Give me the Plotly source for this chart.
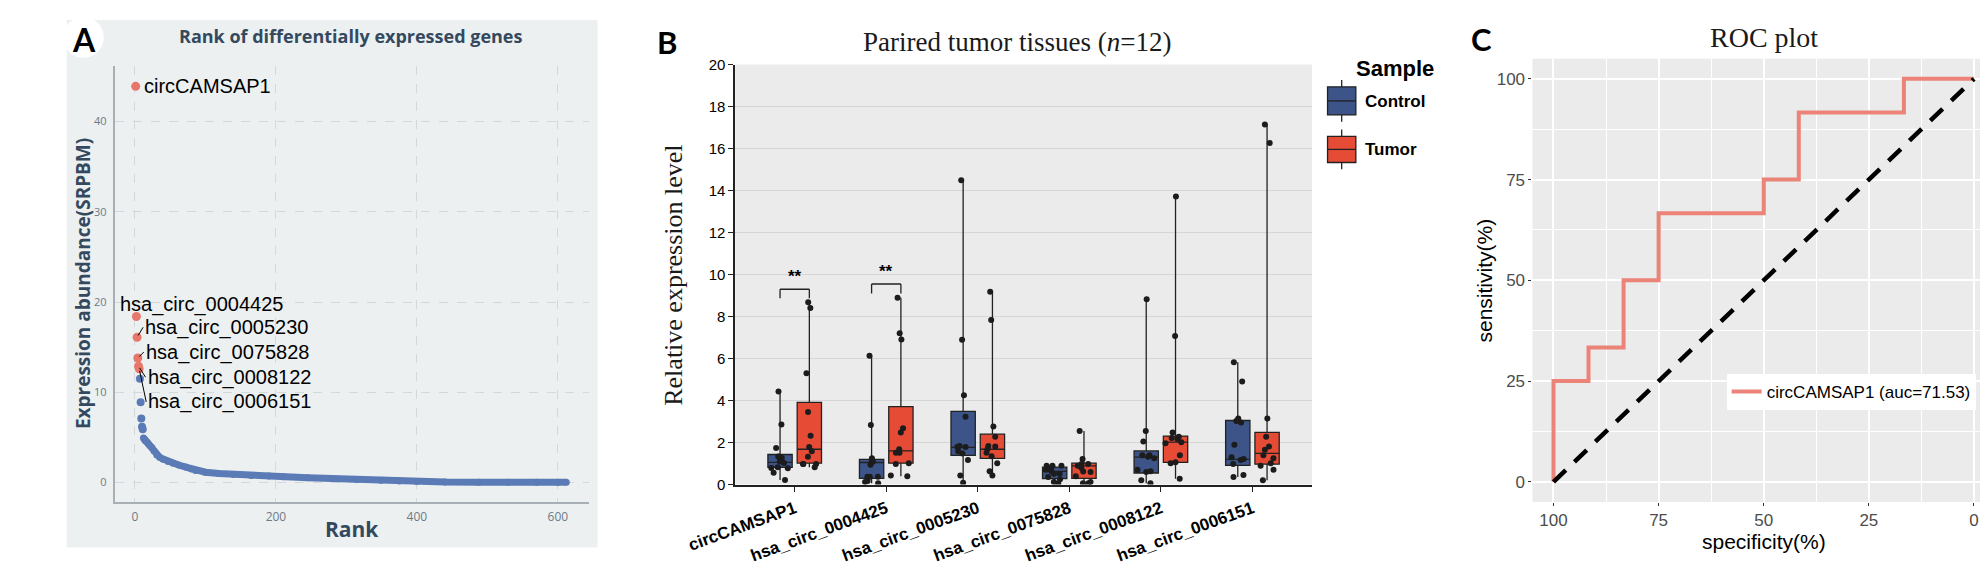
import numpy as np
import plotly.graph_objects as go

W, H = 1988, 567


def px(x):
    return x / W


def py(y):
    return 1 - y / H


# ---------------- Panel A data ----------------
top_rank = [1, 2, 3, 4, 5, 6]
top_abund = [43.9, 18.4, 16.1, 13.8, 12.9, 12.6]
top_label = ["circCAMSAP1", "hsa_circ_0004425", "hsa_circ_0005230",
             "hsa_circ_0075828", "hsa_circ_0008122", "hsa_circ_0006151"]
mid_rank = [7, 8, 9, 10, 11]
mid_abund = [11.5, 8.9, 7.1, 6.2, 5.9]
tail_rank = [12, 13, 14, 15, 17, 19, 21, 24, 27, 31, 35, 40, 47, 54, 62, 72, 80, 86,
             100, 119, 140, 165, 190, 211, 245, 280, 315, 349, 375, 400, 440, 488,
             530, 570, 600, 612]
tail_abund = [4.95, 4.85, 4.75, 4.6, 4.5, 4.3, 4.1, 3.9, 3.5, 3.05, 2.8, 2.6, 2.35,
              2.15, 1.95, 1.72, 1.5, 1.35, 1.15, 1.0, 0.9, 0.8, 0.72, 0.65, 0.55,
              0.46, 0.35, 0.25, 0.18, 0.12, 0.08, 0.05, 0.04, 0.03, 0.03, 0.03]
a_xticks = [0, 200, 400, 600]
a_yticks = [0, 10, 20, 30, 40]

# ---------------- Panel B data ----------------
cats = ["circCAMSAP1", "hsa_circ_0004425", "hsa_circ_0005230",
        "hsa_circ_0075828", "hsa_circ_0008122", "hsa_circ_0006151"]
ctrl_q1 = [0.82, 0.29, 1.39, 0.28, 0.55, 0.91]
ctrl_med = [1.06, 1.05, 1.77, 0.63, 1.31, 1.20]
ctrl_q3 = [1.43, 1.20, 3.48, 0.83, 1.60, 3.05]
tum_q1 = [1.02, 1.02, 1.25, 0.29, 1.06, 0.97]
tum_med = [1.68, 1.60, 1.68, 0.89, 2.02, 1.48]
tum_q3 = [3.91, 3.71, 2.40, 1.02, 2.31, 2.48]

ctrl_pts = [
    [1.74, 2.86, 4.43, 0.22, 1.33, 1.26, 1.03, 0.82, 0.78, 0.79, 0.56, 1.10],
    [6.13, 2.83, 1.25, 1.10, 0.94, 0.37, 0.37, 0.37, 0.17, 0.06, 0.12, 1.05],
    [14.49, 6.90, 4.25, 3.23, 1.79, 1.79, 1.83, 1.58, 1.48, 1.17, 0.43, 0.09],
    [0.89, 0.89, 0.89, 0.70, 0.63, 0.51, 0.51, 0.36, 0.25, 0.12, 0.06, 0.80],
    [8.82, 2.55, 2.05, 1.32, 1.40, 1.40, 1.25, 0.63, 0.60, 0.20, 0.06, 0.70],
    [5.82, 4.91, 3.02, 3.14, 1.89, 1.22, 1.17, 0.98, 0.45, 0.36, 1.30, 2.95],
]
tum_pts = [
    [8.68, 8.41, 5.30, 3.45, 2.32, 1.79, 1.58, 1.32, 0.98, 0.98, 0.98, 0.82],
    [8.90, 7.20, 6.91, 2.68, 2.48, 1.68, 1.52, 1.52, 1.02, 0.98, 0.43, 0.40],
    [9.18, 7.84, 2.77, 2.28, 1.81, 1.83, 1.68, 1.51, 1.35, 1.02, 0.63, 0.43],
    [2.55, 1.22, 0.98, 0.89, 0.98, 0.80, 0.60, 0.62, 0.40, 0.06, 0.12, 0.06],
    [13.72, 7.07, 2.48, 2.28, 2.17, 2.22, 1.97, 2.02, 1.40, 1.06, 1.02, 0.28],
    [17.15, 16.26, 3.14, 2.28, 1.81, 1.66, 1.40, 1.25, 1.02, 0.89, 0.71, 0.20],
]
sig_idx = [0, 1]
sig_top = [9.30, 9.55]
sig_base = [8.87, 9.10]
sig_text = ["**", "**"]
b_yticks = [0, 2, 4, 6, 8, 10, 12, 14, 16, 18, 20]

# ---------------- Panel C data ----------------
roc_spec = [100, 91.67, 83.33, 75, 50, 41.67, 16.67, 0]
roc_sens = [0, 25, 33.33, 50, 66.67, 75, 91.67, 100]
roc_name = "circCAMSAP1 (auc=71.53)"
diag_x = [100, 0]
diag_y = [0, 100]
c_ticks = [0, 25, 50, 75, 100]

# ---------------- styles ----------------
SANS = "Liberation Sans, Arial, sans-serif"
SERIF = "Liberation Serif, Times New Roman, serif"
FLAT = "Open Sans, sans-serif"
A_TEXT = "#34495E"
A_BG = "#ECF0F1"
RED_A = "#E8776B"
BLUE_A = "#5B7BB6"
CTRL = "#3C5488"
TUM = "#E64B35"
ROC_COL = "#EB8378"
BOXGAP = 0.36
GROUPGAP = 0.17

fig = go.Figure()

# ---- Panel A traces ----
fig.add_trace(go.Scatter(x=tail_rank, y=tail_abund, mode="lines+markers",
                         line=dict(color=BLUE_A, width=7),
                         marker=dict(color=BLUE_A, size=7),
                         xaxis="x", yaxis="y", showlegend=False, hoverinfo="skip"))
fig.add_trace(go.Scatter(x=mid_rank, y=mid_abund, mode="markers",
                         marker=dict(color=BLUE_A, size=8),
                         xaxis="x", yaxis="y", showlegend=False))
fig.add_trace(go.Scatter(x=top_rank, y=top_abund, mode="markers",
                         marker=dict(color=RED_A, size=9),
                         xaxis="x", yaxis="y", showlegend=False, text=top_label))

# ---- Panel B traces ----
for name, q1, med, q3, pts, col in [("Control", ctrl_q1, ctrl_med, ctrl_q3, ctrl_pts, CTRL),
                                    ("Tumor", tum_q1, tum_med, tum_q3, tum_pts, TUM)]:
    fig.add_trace(go.Box(
        x=cats, q1=q1, median=med, q3=q3,
        lowerfence=[min(p) for p in pts], upperfence=[max(p) for p in pts],
        name=name, offsetgroup=name, boxpoints=False, whiskerwidth=0,
        fillcolor=col, line=dict(color="#222222", width=1.3),
        xaxis="x2", yaxis="y2", showlegend=False))
for name, pts in [("Control", ctrl_pts), ("Tumor", tum_pts)]:
    fig.add_trace(go.Box(
        x=np.repeat(cats, len(pts[0])), y=np.concatenate(pts),
        name=name + " points", offsetgroup=name, boxpoints="all", jitter=0.85,
        pointpos=0, fillcolor="rgba(0,0,0,0)",
        line=dict(color="rgba(0,0,0,0)", width=0),
        marker=dict(color="#1C1C1C", size=6),
        xaxis="x2", yaxis="y2", showlegend=False, hoveron="points"))

# ---- Panel C traces ----
fig.add_trace(go.Scatter(x=roc_spec, y=roc_sens, mode="lines", line_shape="vh",
                         line=dict(color=ROC_COL, width=4), name=roc_name,
                         xaxis="x3", yaxis="y3", showlegend=True))
fig.add_trace(go.Scatter(x=diag_x, y=diag_y, mode="lines",
                         line=dict(color="black", width=4.5, dash="17px,12px"),
                         xaxis="x3", yaxis="y3", showlegend=False))

shapes = []
annotations = []

# Panel A background + letter circle
shapes.append(dict(type="rect", xref="paper", yref="paper", x0=px(11), x1=px(555),
                   y0=py(547), y1=py(3), fillcolor=A_BG, line=dict(width=0), layer="below"))
shapes.append(dict(type="circle", xref="paper", yref="paper", x0=px(7), x1=px(49),
                   y0=py(42), y1=py(0), fillcolor="white", line=dict(width=0), layer="below"))

# Panel A labels
a_off = [(6, 0, False), (-18, -12, True), (6, -10, True), (6, -6, True), (7, 11, True), (7, 33, True)]
for r, v, lab, (ax_, ay_, arr) in zip(top_rank, top_abund, top_label, a_off):
    d = dict(x=r, y=v, xref="x", yref="y", text=lab, xanchor="left", yanchor="middle",
             font=dict(family=SANS, size=20, color="black"), showarrow=arr)
    if arr:
        d.update(ax=ax_, ay=ay_, arrowhead=0, arrowwidth=1, arrowcolor="black", standoff=2)
    else:
        d.update(xshift=ax_)
    annotations.append(d)

# Panel B significance brackets
dodge = (1 - BOXGAP) / 4
for i, top, base, t in zip(sig_idx, sig_top, sig_base, sig_text):
    for xa, xb, ya, yb in [(i - dodge, i + dodge, top, top),
                           (i - dodge, i - dodge, base, top),
                           (i + dodge, i + dodge, base, top)]:
        shapes.append(dict(type="line", xref="x2", yref="y2", x0=xa, x1=xb, y0=ya, y1=yb,
                           line=dict(color="#222222", width=1.3)))
    annotations.append(dict(x=i, y=top, xref="x2", yref="y2", text="<b>" + t + "</b>",
                            showarrow=False, yanchor="bottom", yshift=1,
                            font=dict(family=SANS, size=17, color="black")))

# Panel B custom legend
leg_items = [("Control", CTRL, 65, 72, 101, 108, 87), ("Tumor", TUM, 116, 123, 150, 157, 137)]
for lab, col, s0, b0, b1, s1, ty in leg_items:
    shapes.append(dict(type="line", xref="paper", yref="paper", x0=px(1317.5), x1=px(1317.5),
                       y0=py(s0), y1=py(s1), line=dict(color="#222222", width=1.3)))
    shapes.append(dict(type="rect", xref="paper", yref="paper", x0=px(1303), x1=px(1332),
                       y0=py(b1), y1=py(b0), fillcolor=col, line=dict(color="#222222", width=1.3)))
    shapes.append(dict(type="line", xref="paper", yref="paper", x0=px(1303), x1=px(1332),
                       y0=py((b0 + b1) / 2), y1=py((b0 + b1) / 2),
                       line=dict(color="#222222", width=1.3)))
    annotations.append(dict(x=px(1339), y=py(ty), xref="paper", yref="paper",
                            text="<b>" + lab + "</b>", showarrow=False, xanchor="left",
                            yanchor="middle", font=dict(family=SANS, size=17, color="black")))
annotations.append(dict(x=px(1372), y=py(53), xref="paper", yref="paper", text="<b>Sample</b>",
                        showarrow=False, xanchor="center", yanchor="middle",
                        font=dict(family=SANS, size=22, color="black")))

# Titles, axis titles, panel letters
annotations += [
    dict(x=px(302), y=py(20), text="<b>Rank of differentially expressed genes</b>",
         font=dict(family=FLAT, size=18, color=A_TEXT)),
    dict(x=px(303), y=py(528), text="<b>Rank</b>", font=dict(family=FLAT, size=21, color=A_TEXT)),
    dict(x=px(27), y=py(275), text="<b>Expression abundance(SRPBM)</b>", textangle=-90,
         font=dict(family=FLAT, size=19, color=A_TEXT)),
    dict(x=px(985), y=py(26), text="Parired tumor tissues (<i>n</i>=12)",
         font=dict(family=SERIF, size=27, color="#1A1A1A")),
    dict(x=px(632), y=py(266), text="Relative expression level", textangle=-90,
         font=dict(family=SERIF, size=26, color="#1A1A1A")),
    dict(x=px(1750), y=py(21), text="ROC plot", font=dict(family=SERIF, size=28, color="#1A1A1A")),
    dict(x=px(1750), y=py(541), text="specificity(%)", font=dict(family=SANS, size=21, color="black")),
    dict(x=px(1464), y=py(272), text="sensitivity(%)", textangle=-90,
         font=dict(family=SANS, size=21, color="black")),
    dict(x=px(29), y=py(23), text="<b>A</b>", font=dict(family="Lato, sans-serif", size=32, color="black")),
    dict(x=px(626), y=py(26), text="<b>B</b>", font=dict(family="Lato, sans-serif", size=31, color="black")),
    dict(x=px(1461), y=py(23), text="<b>C</b>", font=dict(family="Lato, sans-serif", size=31, color="black")),
]
for a in annotations[-11:]:
    a.update(xref="paper", yref="paper", showarrow=False, xanchor="center", yanchor="middle")

fig.update_layout(
    width=W, height=H, margin=dict(l=0, r=0, t=0, b=0),
    paper_bgcolor="white", plot_bgcolor="#EBEBEB",
    boxmode="group", boxgap=BOXGAP, boxgroupgap=GROUPGAP,
    shapes=shapes, annotations=annotations,
    showlegend=True,
    legend=dict(x=px(1712), y=py(368), xanchor="left", yanchor="top",
                bgcolor="white", font=dict(family=SANS, size=17, color="black"),
                itemwidth=30, borderwidth=0),
    xaxis=dict(domain=[px(60), px(546)], anchor="y", range=[-29, 644], tickvals=a_xticks,
               showgrid=True, gridcolor="#D3D8DC", griddash="dash", gridwidth=1,
               zeroline=False, showline=True, linecolor="#A9B0B5", linewidth=1.5,
               ticks="outside", ticklen=3, tickcolor="rgba(0,0,0,0)",
               tickfont=dict(family=FLAT, size=12, color="#6C7A88")),
    yaxis=dict(domain=[py(500), py(51)], anchor="x", range=[-2.15, 46.1], tickvals=a_yticks,
               showgrid=True, gridcolor="#D3D8DC", griddash="dash", gridwidth=1,
               zeroline=False, showline=True, linecolor="#A9B0B5", linewidth=1.5,
               ticks="outside", ticklen=4, tickcolor="rgba(0,0,0,0)",
               tickfont=dict(family=FLAT, size=11, color="#6C7A88")),
    xaxis2=dict(domain=[px(696), px(1287)], anchor="y2", type="category",
                categoryorder="array", categoryarray=cats, range=[-0.65, 5.65],
                showgrid=False, zeroline=False, showline=True, linecolor="#222222", linewidth=1.5,
                ticks="outside", ticklen=6, tickcolor="#222222", tickwidth=1.3, tickangle=-20,
                tickfont=dict(family=SANS, size=17, color="black", weight="bold")),
    yaxis2=dict(domain=[py(482), py(49)], anchor="x2", range=[0, 20], tickvals=b_yticks,
                showgrid=True, gridcolor="#D6D6D6", gridwidth=1.3, zeroline=False,
                showline=True, linecolor="#222222", linewidth=1.5,
                ticks="outside", ticklen=5, tickcolor="#222222", tickwidth=1.3,
                tickfont=dict(family=SANS, size=15, color="black")),
    xaxis3=dict(domain=[px(1513), px(1987)], anchor="y3", range=[105, -5], tickvals=c_ticks,
                showgrid=True, gridcolor="white", gridwidth=1.6, zeroline=False, showline=False,
                minor=dict(dtick=12.5, tick0=0, showgrid=True, gridcolor="white", gridwidth=0.7),
                ticks="outside", ticklen=3, tickcolor="#333333", tickwidth=1.2,
                tickfont=dict(family=SANS, size=17, color="#4D4D4D")),
    yaxis3=dict(domain=[py(500), py(43)], anchor="x3", range=[-5, 105], tickvals=c_ticks,
                showgrid=True, gridcolor="white", gridwidth=1.6, zeroline=False, showline=False,
                minor=dict(dtick=12.5, tick0=0, showgrid=True, gridcolor="white", gridwidth=0.7),
                ticks="outside", ticklen=3, tickcolor="#333333", tickwidth=1.2,
                tickfont=dict(family=SANS, size=17, color="#4D4D4D")),
)

fig.write_html("out.html")
